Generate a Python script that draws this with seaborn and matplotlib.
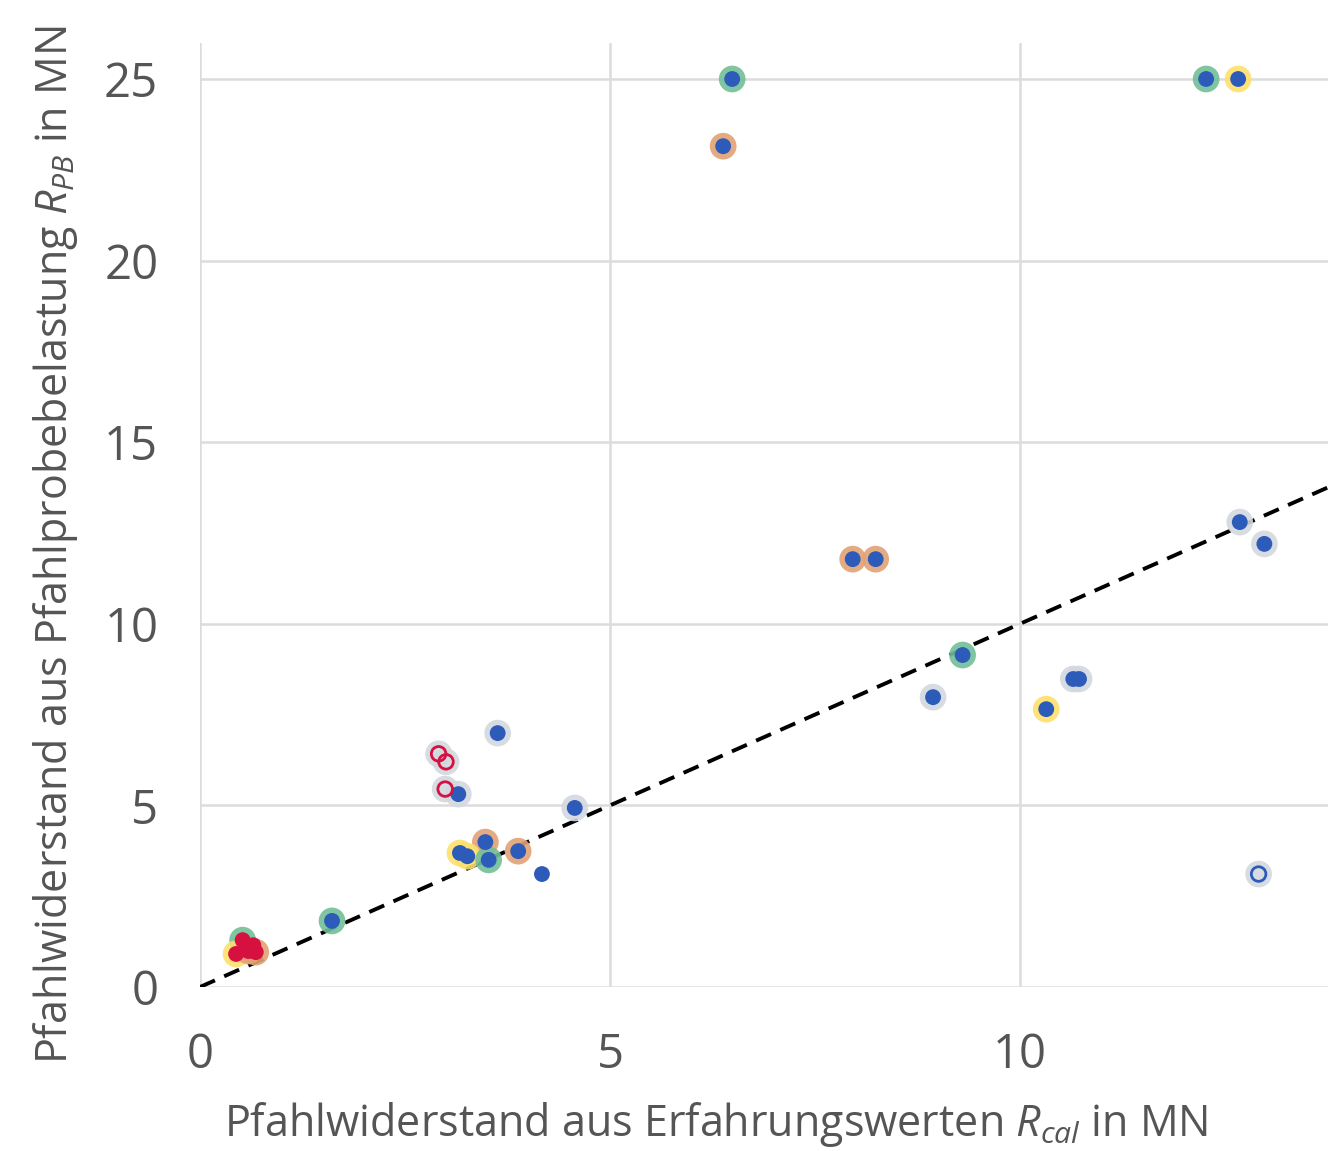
import numpy as np
import pandas as pd
import seaborn as sns
import matplotlib
matplotlib.use("Agg")
import matplotlib.pyplot as plt

# Rcal (x) and RPB (y) in MN, halo = highlight ring colour group, dot = inner marker
x_cal = [6.49, 6.38, 12.27, 12.66, 7.96, 8.24, 12.68, 12.98, 9.30, 8.94,
         10.65, 10.72, 10.32, 12.91, 3.63, 2.91, 3.00, 2.99, 3.15, 4.57,
         3.48, 3.17, 3.26, 3.52, 3.88, 4.17, 1.61,
         0.52, 0.44, 0.68, 0.59, 0.65]
y_pb = [25.0, 23.15, 25.0, 25.0, 11.78, 11.78, 12.8, 12.2, 9.14, 7.98,
        8.48, 8.48, 7.65, 3.11, 6.99, 6.42, 6.20, 5.45, 5.31, 4.93,
        3.99, 3.69, 3.60, 3.50, 3.74, 3.11, 1.82,
        1.29, 0.91, 0.96, 0.99, 1.15]
halo = ["green", "orange", "green", "yellow", "orange", "orange", "gray", "gray", "green", "gray",
        "gray", "gray", "yellow", "gray", "gray", "gray", "gray", "gray", "gray", "gray",
        "orange", "yellow", "yellow", "green", "orange", "none", "green",
        "green", "yellow", "orange", "orange", "none"]
dot = ["blue", "blue", "blue", "blue", "blue", "blue", "blue", "blue", "blue", "blue",
       "blue", "blue", "blue", "blue_open", "blue", "red_open", "red_open", "red_open", "blue", "blue",
       "blue", "blue", "blue", "blue", "blue", "blue", "blue",
       "red", "red", "red", "red", "red"]

ref_line = [0, 14]

halo_colors = {"gray": "#d3d8df", "green": "#72bf98", "orange": "#e2a275", "yellow": "#fde06a"}
dot_colors = {"blue": "#2d5bb9", "red": "#d6103f"}

df = pd.DataFrame({"x": x_cal, "y": y_pb, "halo": halo, "dot": dot})

sns.set_theme(style="whitegrid")
plt.rcParams["font.family"] = ["Open Sans", "DejaVu Sans"]
plt.rcParams["mathtext.fontset"] = "custom"
plt.rcParams["mathtext.rm"] = "Open Sans"
plt.rcParams["mathtext.it"] = "Open Sans:italic"

fig = plt.figure(figsize=(13.28, 11.51), dpi=100)
ax = fig.add_axes([200 / 1328, 1 - 987 / 1151, 1 - 200 / 1328, (987 - 43) / 1151])

txt = "#555555"
grid_c = "#dcdcdc"

h = df[df["halo"] != "none"]
sns.scatterplot(data=h, x="x", y="y", hue="halo", palette=halo_colors, s=370,
                linewidth=0, alpha=0.9, legend=False, ax=ax, zorder=3, clip_on=False)

filled = df[df["dot"].isin(["blue", "red"])]
sns.scatterplot(data=filled, x="x", y="y", hue="dot", palette=dot_colors, s=130,
                linewidth=0, legend=False, ax=ax, zorder=4, clip_on=False)

for key, col in [("blue_open", "#2d5bb9"), ("red_open", "#d6103f")]:
    sub = df[df["dot"] == key]
    sns.scatterplot(data=sub, x="x", y="y", s=110, facecolor="none", edgecolor=col,
                    linewidth=2, legend=False, ax=ax, zorder=4)

ax.plot(ref_line, ref_line, color="black", linestyle=(0, (4.2, 2.6)), linewidth=2.8, zorder=2)

ax.set_xlim(0, (1328 - 200) / 82)
ax.set_ylim(0, (987 - 43) / 36.32)
ax.set_xticks([0, 5, 10])
ax.set_yticks([0, 5, 10, 15, 20, 25])

ax.grid(True, color=grid_c, linewidth=1.8)
for s in ax.spines.values():
    s.set_visible(False)
ax.tick_params(axis="both", length=11, width=1.8, color=grid_c, labelcolor=txt, labelsize=34)
ax.tick_params(axis="y", pad=19)
ax.tick_params(axis="x", pad=21)
ax.set_facecolor("white")

ax.set_xlabel(r"Pfahlwiderstand aus Erfahrungswerten $R_{cal}$ in MN", fontsize=31, color=txt)
ax.set_ylabel(r"Pfahlwiderstand aus Pfahlprobebelastung $R_{PB}$ in MN", fontsize=31, color=txt)
ax.xaxis.set_label_coords((716 - 200) / 1128, -(1100 - 987) / 944)
ax.yaxis.set_label_coords(-(200 - 80) / 1128, (987 - 545) / 944)

fig.savefig("out.png", dpi=100, facecolor="white")
